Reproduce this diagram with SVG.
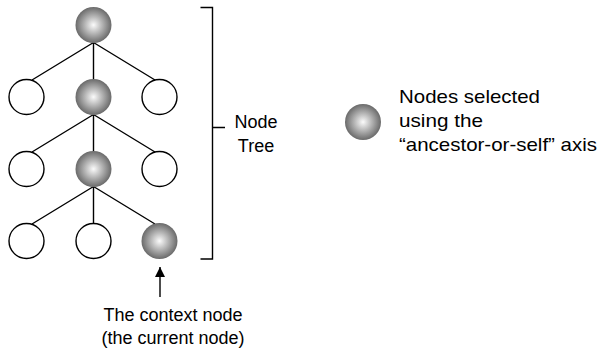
<svg xmlns="http://www.w3.org/2000/svg" width="600" height="352" viewBox="0 0 600 352">
<defs>
<radialGradient id="g" cx="50%" cy="50%" r="50%">
<stop offset="0" stop-color="#fbfbfb"/>
<stop offset="1" stop-color="#6a6a6a"/>
</radialGradient>
<marker id="ah" viewBox="0 0 10 10" refX="10" refY="5" markerWidth="10" markerHeight="10" markerUnits="userSpaceOnUse" orient="auto">
<path d="M0,0 L10,5 L0,10 z" fill="#000"/>
</marker>
<style>
.w{fill:#fff;stroke:#000;stroke-width:1.4}
.s{fill:url(#g);stroke:none}
.l{stroke:#000;stroke-width:1.4;fill:none}
text{font-family:"Liberation Sans",Arial,sans-serif;font-size:18px;fill:#000}
.lg{font-size:19px}
</style>
</defs>
<rect width="600" height="352" fill="#fff"/>
<g id="connectors">
<path class="l" d="M93.5 42.5 L32 80 M93.5 42.5 V79.5 M93.5 42.5 L155 80"/>
<path class="l" d="M93.5 114.5 L32 152 M93.5 114.5 V151.5 M93.5 114.5 L155 152"/>
<path class="l" d="M93.5 186.5 L32 224 M93.5 186.5 V223.5 M93.5 186.5 L155 224"/>
<path class="l" d="M200.5 7.5 H212.5 V259 H200.5 M212.5 127.5 H225"/>
<path class="l" d="M160 297 V267" marker-end="url(#ah)"/>
</g>
<g id="n1"><circle class="s" cx="93.5" cy="25" r="18"/></g>
<g id="n2a"><circle class="w" cx="26.5" cy="97" r="17.5"/></g>
<g id="n2b"><circle class="s" cx="93.5" cy="97" r="18"/></g>
<g id="n2c"><circle class="w" cx="159.5" cy="97" r="17.5"/></g>
<g id="n3a"><circle class="w" cx="26.5" cy="169" r="17.5"/></g>
<g id="n3b"><circle class="s" cx="93.5" cy="169" r="18"/></g>
<g id="n3c"><circle class="w" cx="159.5" cy="169" r="17.5"/></g>
<g id="n4a"><circle class="w" cx="26.5" cy="241" r="17.5"/></g>
<g id="n4b"><circle class="w" cx="93.5" cy="241" r="17.5"/></g>
<g id="n4c"><circle class="s" cx="159.5" cy="241" r="18"/></g>
<g id="tree-label">
<text x="256" y="128" text-anchor="middle">Node</text>
<text x="256" y="152" text-anchor="middle">Tree</text>
</g>
<g id="legend">
<circle class="s" cx="363" cy="122" r="18"/>
<text class="lg" x="399" y="103" textLength="141" lengthAdjust="spacingAndGlyphs">Nodes selected</text>
<text class="lg" x="399" y="127" textLength="84" lengthAdjust="spacingAndGlyphs">using the</text>
<text class="lg" x="399" y="151" textLength="198" lengthAdjust="spacingAndGlyphs">“ancestor-or-self” axis</text>
</g>
<g id="context-label">
<text x="173" y="321" text-anchor="middle">The context node</text>
<text x="173" y="344" text-anchor="middle">(the current node)</text>
</g>
</svg>
